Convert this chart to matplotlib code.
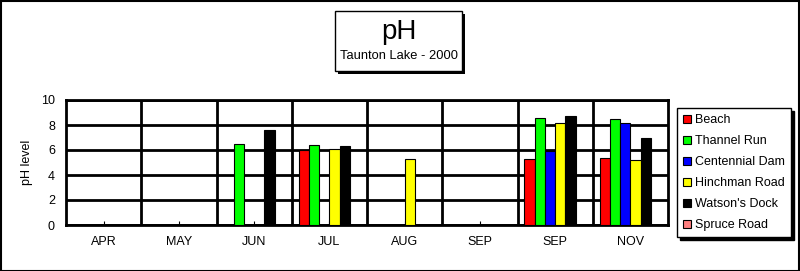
import numpy as np
import matplotlib
matplotlib.use("Agg")
import matplotlib.pyplot as plt
from matplotlib.patches import Rectangle

plt.rcParams['font.family'] = ['Liberation Sans', 'DejaVu Sans']

# data
months = ["APR", "MAY", "JUN", "JUL", "AUG", "SEP", "SEP", "NOV"]
sites = ["Beach", "Thannel Run", "Centennial Dam", "Hinchman Road",
         "Watson's Dock", "Spruce Road"]
colors = ["#ff0000", "#00ff00", "#0000ff", "#ffff00", "#000000", "#ff8080"]
nan = np.nan
beach = [nan, nan, nan, 6.0, nan, nan, 5.3, 5.4]
thannel = [nan, nan, 6.5, 6.4, nan, nan, 8.6, 8.5]
centennial = [nan, nan, nan, nan, nan, nan, 5.9, 8.2]
hinchman = [nan, nan, nan, 6.1, 5.3, nan, 8.2, 5.2]
watson = [nan, nan, 7.6, 6.3, nan, nan, 8.7, 7.0]
spruce = [nan] * 8
series = [beach, thannel, centennial, hinchman, watson, spruce]

fig = plt.figure(figsize=(8, 2.71), dpi=100)
ax = fig.add_axes([66/800, 46/271, 602/800, 125/271])

x = np.arange(len(months))
w = 0.136
for j, (name, vals, c) in enumerate(zip(sites, series, colors)):
    ax.bar(x + (j - 2.5) * w, vals, width=w, color=c, edgecolor="black",
           linewidth=0.8, label=name, zorder=3)

ax.set_xlim(-0.5, len(months) - 0.5)
ax.set_ylim(0, 10)
ax.set_yticks([0, 2, 4, 6, 8, 10])
ax.set_xticks(x)
ax.set_xticklabels(months)
ax.set_xticks(np.arange(0.5, len(months) - 0.5), minor=True)
ax.tick_params(axis="x", which="major", direction="in", length=3, width=0.8,
               pad=8, labelsize=9)
ax.tick_params(axis="x", which="minor", length=0)
ax.tick_params(axis="y", length=0, pad=8, labelsize=9)
ax.grid(axis="y", which="major", color="black", linewidth=2, zorder=1)
ax.grid(axis="x", which="minor", color="black", linewidth=2, zorder=1)
ax.set_axisbelow(True)
for s in ax.spines.values():
    s.set_linewidth(2)
ax.set_ylabel("pH level", fontsize=9, labelpad=6)

leg = ax.legend(loc="upper left", bbox_to_anchor=(677/800, 1 - 108/271),
                bbox_transform=fig.transFigure, borderaxespad=0, fontsize=9,
                handlelength=0.6, handleheight=0.6, handletextpad=0.35,
                labelspacing=0.72, borderpad=0.5, fancybox=False,
                edgecolor="black", framealpha=1,
                shadow={"color": "black", "alpha": 1})
leg.get_frame().set_linewidth(1)

# title box with shadow
fig.patches.append(Rectangle((338/800, 1 - 74/271), 127/800, 60/271,
                             transform=fig.transFigure, facecolor="black",
                             edgecolor="none", zorder=1))
fig.patches.append(Rectangle((335/800, 1 - 71/271), 127/800, 60/271,
                             transform=fig.transFigure, facecolor="white",
                             edgecolor="black", linewidth=1, zorder=2))
fig.text(398.5/800, 1 - 32/271, "pH", ha="center", va="center", fontsize=20,
         zorder=3)
fig.text(398.5/800, 1 - 56/271, "Taunton Lake - 2000", ha="center",
         va="center", fontsize=9.3, zorder=3)

# outer border
fig.patches.append(Rectangle((0.5/800, 0.5/271), 798.5/800, 269.5/271,
                             transform=fig.transFigure, fill=False,
                             edgecolor="black", linewidth=1.5))

fig.savefig("out.png", dpi=100)
